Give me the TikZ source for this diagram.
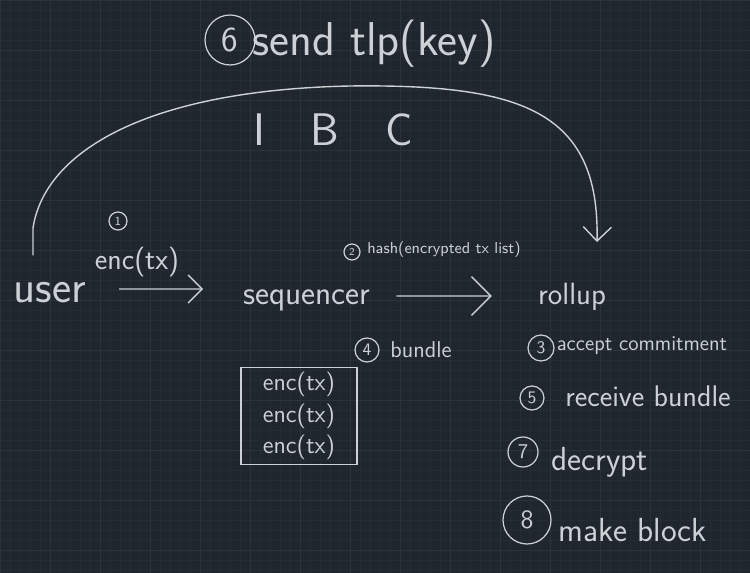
\documentclass[tikz,border=0pt]{standalone}
\usepackage{tikz}
\usetikzlibrary{arrows.meta}

\definecolor{board}{HTML}{1F262E}
\definecolor{gridminor}{HTML}{252C35}
\definecolor{gridmajor}{HTML}{2B333D}
\definecolor{chalk}{HTML}{CDD1D5}

\begin{document}
\begin{tikzpicture}[x=0.02cm,y=-0.02cm,
  every node/.style={text=chalk,inner sep=0pt},
  hand/.style={font=\sffamily\fontsize{#1}{#1}\selectfont},
  chalkline/.style={chalk,line width=0.8pt,line cap=round},
  flow/.style={chalkline,arrows={-Straight Barb[length=#1,width=2*#1]}},
  flow/.default=8pt,
  num/.style={circle,draw=chalk,line width=0.7pt,minimum size=#1}]

\begin{scope}

\clip (0,0) rectangle (750,573);

\fill [board] (0,0) rectangle (750,573);
\draw [gridminor,line width=0.3pt,step=0.2cm] (0,0) grid (750,573);
\draw [gridmajor,line width=0.4pt,step=1cm] (0,0) grid (750,573);

\end{scope}

% top: step 6
\node [num=1cm,hand=20] (n6) at (230,40) {6};
\node [hand=27] (sendkey) at (374,44) {send tlp(key)};
\node [hand=26] (ibc) at (333,130) {I\quad B\quad C};

% parties
\node [hand=26] (user) at (50,293) {user};
\node [hand=19] (sequencer) at (307,300) {sequencer};
\node [hand=17.5] (rollup) at (572,297) {rollup};

% step 1
\node [num=0.36cm,hand=7] (n1) at (118,221) {1};
\node [hand=17] (enctx) at (137,262) {enc(tx)};
\draw [flow,shorten <=0.66cm,shorten >=0.8cm] ([yshift=0.08cm]user.east) -- ([yshift=0.22cm]sequencer.west);

% step 2
\node [num=0.32cm,hand=6] (n2) at (352,252) {2};
\node [hand=9] (hash) at (444,250) {hash(encrypted tx list)};
\draw [flow=11pt,shorten <=0.52cm,shorten >=0.92cm] ([yshift=0.08cm]sequencer.east) -- ([yshift=0.02cm]rollup.west);

% IBC
\coordinate (ibcL) at (33,255);
\coordinate (ibcR) at (597,242);
\draw [flow=8pt] (ibcL) -- (33,228) .. controls (45,150) and (150,90) .. (350,86) .. controls (520,84) and (600,110) .. (ibcR);

% step 4
\node [num=0.48cm,hand=10] (n4) at (367,350) {4};
\node [hand=13] (bundle) at (421,350) {bundle};
\node [draw=chalk,line width=0.8pt,minimum width=2.32cm,minimum height=1.94cm,align=center,font=\sffamily\fontsize{14}{18}\selectfont] (box) at (299,416) {enc(tx)\\enc(tx)\\enc(tx)};

% rollup steps
\node [num=0.52cm,hand=10] (n3) at (541,348) {3};
\node [hand=12] (accept) at (642,346) {accept commitment};
\node [num=0.48cm,hand=10] (n5) at (532,398) {5};
\node [hand=17] (receive) at (648,396) {receive bundle};
\node [num=0.6cm,hand=12] (n7) at (523,452) {7};
\node [hand=19] (decrypt) at (600,462) {decrypt};
\node [num=0.96cm,hand=15] (n8) at (527,520) {8};
\node [hand=19] (make) at (633,530) {make block};

\end{tikzpicture}
\end{document}
